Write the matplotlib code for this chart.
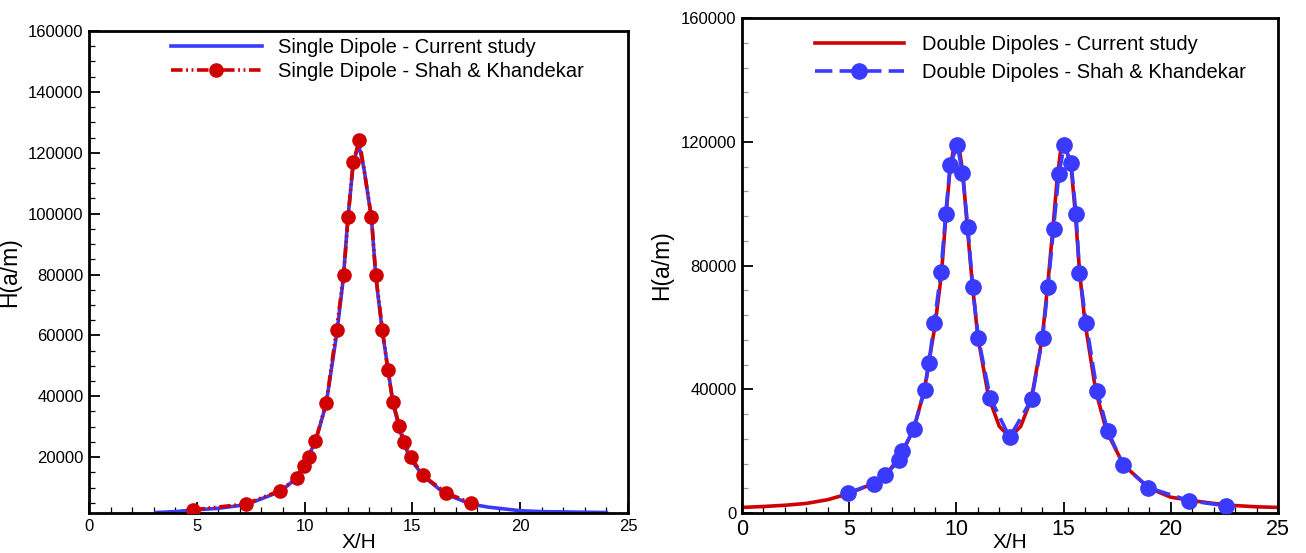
import numpy as np
import matplotlib
matplotlib.use('Agg')
import matplotlib.pyplot as plt
from matplotlib.ticker import MultipleLocator

plt.rcParams['font.family'] = ['Liberation Sans', 'DejaVu Sans']

# ── Single dipole (left panel) ────────────────────────────────────────────────
single_cur_x = [3.1, 4.0, 4.8, 6.0, 7.3, 8.9, 9.6, 10.0, 10.5, 11.0, 11.5, 11.8,
                12.0, 12.25, 12.5, 12.75, 13.1, 13.3, 13.6, 13.9, 14.1, 14.4,
                14.6, 14.9, 15.5, 16.5, 17.7, 18.5, 20.0, 21.0, 22.0, 23.0, 24.0]
single_cur_y = [1800, 2100, 2600, 3200, 4400, 8800, 13000, 18000, 25000, 37500,
                61000, 79000, 98000, 116000, 123000, 115000, 98500, 79500, 61500,
                47500, 37500, 29500, 24500, 19500, 13800, 8000, 4600, 3600, 2400,
                2100, 2000, 1900, 1800]

single_ref_x = [4.84, 7.26, 8.87, 9.64, 9.95, 10.19, 10.5, 11.01, 11.48, 11.81,
                12.02, 12.25, 12.54, 13.1, 13.3, 13.61, 13.86, 14.1, 14.4, 14.63,
                14.93, 15.47, 16.55, 17.71]
single_ref_y = [2700, 4600, 9000, 13200, 17100, 19900, 25300, 37900, 61900, 79800,
                98900, 116800, 124100, 98900, 79800, 61900, 48600, 38100, 30200,
                25000, 20100, 14100, 8300, 5000]

# ── Double dipoles (right panel) ──────────────────────────────────────────────
double_cur_x = [0, 1, 2, 3, 4, 5, 6, 6.7, 7.4, 8.0, 8.5, 9.0, 9.3, 9.5, 9.7, 9.85,
                10.0, 10.15, 10.3, 10.5, 10.75, 11.0, 11.5, 12.0, 12.5, 13.0, 13.5,
                14.0, 14.25, 14.5, 14.7, 14.85, 15.0, 15.15, 15.35, 15.55, 15.75,
                16.0, 16.5, 17.0, 17.8, 19.0, 20.0, 21.0, 22.0, 23.0, 24.0, 25.0]
double_cur_y = [1800, 2100, 2500, 3100, 4300, 6300, 9200, 12300, 18500, 27000,
                39500, 60500, 77000, 95000, 111000, 117000, 119500, 117000, 110000,
                93000, 73500, 57000, 37500, 28000, 24500, 28000, 37000, 56500, 73000,
                92000, 108000, 116500, 119500, 117000, 112000, 96500, 77500, 61500,
                39500, 26500, 15500, 8000, 5100, 4000, 3100, 2400, 2000, 1800]

double_ref_x = [4.95, 6.14, 6.67, 7.33, 7.47, 8.0, 8.52, 8.72, 8.97, 9.28, 9.5,
                9.71, 10.04, 10.28, 10.53, 10.76, 11.02, 11.58, 12.48, 13.51, 14.02,
                14.27, 14.53, 14.78, 15.03, 15.35, 15.58, 15.74, 16.05, 16.56, 17.06,
                17.78, 18.95, 20.85, 22.58]
double_ref_y = [6500, 9500, 12200, 17000, 19900, 27000, 39900, 48600, 61500, 78000,
                96500, 112400, 119000, 109900, 92600, 72900, 56700, 37200, 24500,
                36700, 56700, 72900, 91900, 109700, 118800, 113000, 96600, 77700,
                61500, 39500, 26500, 15600, 8200, 4000, 2300]

RED = '#d00000'
BLUE = '#3a3aff'

fig = plt.figure(figsize=(13.06, 5.53), dpi=100)
ax1 = fig.add_axes([89 / 1306, 40 / 553, 539 / 1306, 482 / 553])
ax2 = fig.add_axes([742 / 1306, 40 / 553, 536 / 1306, 495 / 553])

# left
ax1.plot(single_cur_x, single_cur_y, color=BLUE, lw=2.6, zorder=2,
         label='Single Dipole - Current study')
ax1.plot(single_ref_x, single_ref_y, color=RED, lw=2.6, zorder=3,
         linestyle=(0, (3.2, 1.0, 0.5, 1.0, 0.5, 1.0)),
         marker='o', ms=9.5, label='Single Dipole - Shah & Khandekar')
ax1.set_xlim(0, 25)
ax1.set_ylim(1650, 160000)
ax1.xaxis.set_major_locator(MultipleLocator(5))
ax1.xaxis.set_minor_locator(MultipleLocator(1))
ax1.yaxis.set_major_locator(MultipleLocator(20000))
ax1.yaxis.set_minor_locator(MultipleLocator(5000))
ax1.tick_params(axis='both', which='major', labelsize=12)
ax1.legend(loc='upper left', bbox_to_anchor=(0.152, 0.985), frameon=False,
           fontsize=14.5, handlelength=4.5, handletextpad=0.8,
           labelspacing=0.25, borderpad=0, borderaxespad=0)

# right
ax2.plot(double_cur_x, double_cur_y, color=RED, lw=2.6, zorder=2,
         label='Double Dipoles - Current study')
ax2.plot(double_ref_x, double_ref_y, color=BLUE, lw=2.6, zorder=3,
         linestyle=(0, (4.8, 2.0)), marker='o', ms=11,
         label='Double Dipoles - Shah & Khandekar')
ax2.set_xlim(0, 25)
ax2.set_ylim(0, 160000)
ax2.xaxis.set_major_locator(MultipleLocator(5))
ax2.xaxis.set_minor_locator(MultipleLocator(1))
ax2.yaxis.set_major_locator(MultipleLocator(40000))
ax2.yaxis.set_minor_locator(MultipleLocator(8000))
ax2.tick_params(axis='x', which='major', labelsize=15.5)
ax2.tick_params(axis='y', which='major', labelsize=12)
ax2.legend(loc='upper left', bbox_to_anchor=(0.136, 0.965), frameon=False,
           fontsize=14.5, handlelength=4.4, handletextpad=0.9,
           labelspacing=0.45, borderpad=0, borderaxespad=0)

for ax, ylx, h in [(ax1, -0.126, 482), (ax2, -0.129, 495)]:
    for s in ax.spines.values():
        s.set_linewidth(2.0)
    ax.tick_params(which='both', direction='in', top=False, right=False)
    ax.tick_params(which='major', length=8, width=1.3, pad=4)
    ax.tick_params(which='minor', length=4.5, width=0.9)
    ax.set_xlabel('X/H', fontsize=15)
    ax.xaxis.label.set_va('bottom')
    ax.xaxis.set_label_coords(0.5, -39.5 / h)
    ax.set_ylabel('H(a/m)', fontsize=16.5)
    ax.yaxis.set_label_coords(ylx, 0.5)

ax2.tick_params(axis='y', which='minor', color='#999999')

fig.savefig('out.png', dpi=100)
